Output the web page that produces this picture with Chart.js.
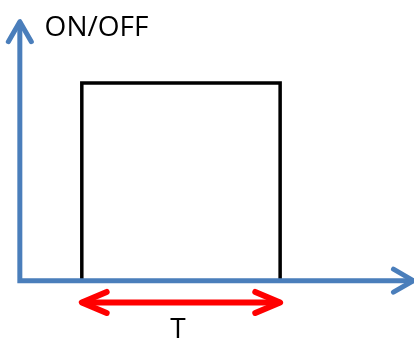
<!DOCTYPE html>
<html>
<head>
<meta charset="utf-8">
<script src="https://cdn.jsdelivr.net/npm/chart.js@4/dist/chart.umd.min.js"></script>
<style>
  html, body { margin: 0; padding: 0; background: #fff; }
  #wrap { width: 414px; height: 340px; }
</style>
</head>
<body>
<div id="wrap"><canvas id="pulse"></canvas></div>
<script>
// Pulse signal: time (x) against state (0 = OFF, 1 = ON)
const pulseTimes = [1, 1, 4.2, 4.2];
const pulseStates = [0, 1, 1, 0];

// Axes as one L shaped line: top of state axis -> origin -> end of time axis
const axisTimes = [0, 0, 6.35];
const axisStates = [1.31, 0, 0];

// Period marker below the pulse
const periodTimes = [1, 4.2];
const periodStates = [-0.11, -0.11];

// Text labels
const axisTitle = 'ON/OFF';
const periodLabel = 'T';

const toPoints = (xs, ys) => xs.map((x, i) => ({ x: x, y: ys[i] }));

// Draws open chevron arrow heads on the ends of a line dataset
const arrowHeads = {
    id: 'arrowHeads',
    afterDatasetsDraw(chart) {
        const ctx = chart.ctx;
        chart.data.datasets.forEach((ds, i) => {
            if (!ds.arrows) return;
            const pts = chart.getDatasetMeta(i).data;
            const head = (tip, from) => {
                const ang = Math.atan2(tip.y - from.y, tip.x - from.x);
                const a = ds.arrowAngle * Math.PI / 180;
                const len = ds.arrowSize;
                ctx.beginPath();
                ctx.moveTo(tip.x - len * Math.cos(ang - a), tip.y - len * Math.sin(ang - a));
                ctx.lineTo(tip.x, tip.y);
                ctx.lineTo(tip.x - len * Math.cos(ang + a), tip.y - len * Math.sin(ang + a));
                ctx.stroke();
            };
            ctx.save();
            ctx.strokeStyle = ds.borderColor;
            ctx.lineWidth = ds.borderWidth;
            ctx.lineCap = 'round';
            ctx.lineJoin = 'round';
            const n = pts.length;
            if (ds.arrows === 'both' || ds.arrows === 'start') head(pts[0], pts[1]);
            if (ds.arrows === 'both' || ds.arrows === 'end') head(pts[n - 1], pts[n - 2]);
            ctx.restore();
        });
    }
};

// Text anchored to data coordinates
const textLabels = {
    id: 'textLabels',
    afterDraw(chart, args, opts) {
        const ctx = chart.ctx;
        const xs = chart.scales.x, ys = chart.scales.y;
        ctx.save();
        ctx.fillStyle = '#000';
        ctx.font = opts.font;
        ctx.textBaseline = 'middle';
        opts.items.forEach(item => {
            ctx.textAlign = item.align;
            ctx.fillText(item.text, xs.getPixelForValue(item.x), ys.getPixelForValue(item.y));
        });
        ctx.restore();
    }
};

const ctx = document.getElementById('pulse').getContext('2d');
new Chart(ctx, {
    type: 'scatter',
    data: {
        datasets: [
            {
                data: toPoints(axisTimes, axisStates),
                showLine: true,
                borderColor: '#4a7ebb',
                borderWidth: 5,
                borderJoinStyle: 'miter',
                pointRadius: 0,
                arrows: 'both',
                arrowSize: 23,
                arrowAngle: 30
            },
            {
                data: toPoints(pulseTimes, pulseStates),
                showLine: true,
                borderColor: '#000',
                borderWidth: 3.5,
                borderJoinStyle: 'miter',
                pointRadius: 0
            },
            {
                data: toPoints(periodTimes, periodStates),
                showLine: true,
                borderColor: '#ff0000',
                borderWidth: 6,
                pointRadius: 0,
                arrows: 'both',
                arrowSize: 27,
                arrowAngle: 23
            }
        ]
    },
    options: {
        responsive: true,
        maintainAspectRatio: false,
        animation: false,
        layout: { padding: 0 },
        scales: {
            x: { type: 'linear', min: -0.32, max: 6.36, display: false },
            y: { type: 'linear', min: -0.3, max: 1.42, display: false }
        },
        plugins: {
            legend: { display: false },
            tooltip: { enabled: false },
            textLabels: {
                font: '28px "Open Sans", sans-serif',
                items: [
                    { text: axisTitle, x: 0.4, y: 1.28, align: 'left' },
                    { text: periodLabel, x: 2.55, y: -0.25, align: 'center' }
                ]
            }
        }
    },
    plugins: [arrowHeads, textLabels]
});
</script>
</body>
</html>
